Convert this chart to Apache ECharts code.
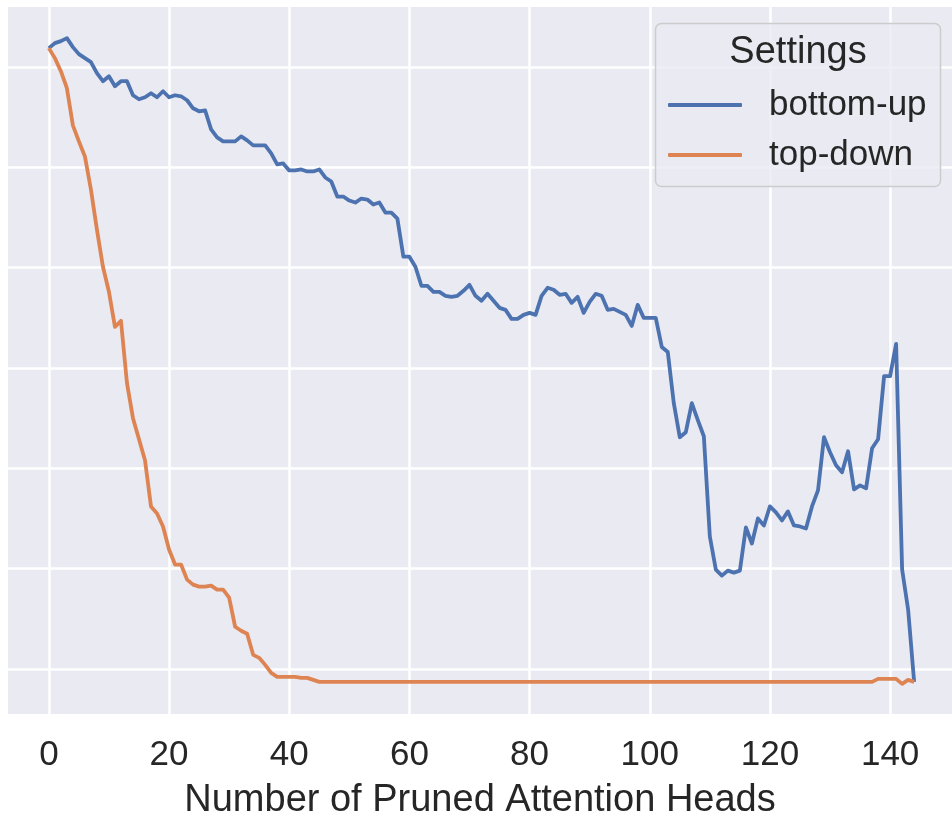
<!DOCTYPE html>
<html><head><meta charset="utf-8">
<script src="https://cdn.jsdelivr.net/npm/echarts@6/dist/echarts.min.js"></script>
<style>html,body{margin:0;padding:0;background:#fff}#c{width:952px;height:817px}</style>
</head><body><div id="c"></div>
<script>
const seriesNames = ['bottom-up', 'top-down'];
const xTickLabels = ['0', '20', '40', '60', '80', '100', '120', '140'];
const xAxisTitle = 'Number of Pruned Attention Heads';
const legendTitle = 'Settings';

const bottomUp = [
  61.9,62.4,62.6,62.9,62.0,61.3,60.9,60.5,59.4,58.6,
  59.1,58.1,58.6,58.6,57.2,56.8,57.0,57.4,57.0,57.6,
  57.0,57.2,57.1,56.7,55.9,55.6,55.7,53.8,53.0,52.6,
  52.6,52.6,53.1,52.7,52.2,52.2,52.2,51.4,50.3,50.4,
  49.7,49.7,49.8,49.6,49.6,49.8,49.0,48.6,47.1,47.1,
  46.7,46.5,46.9,46.8,46.3,46.5,45.5,45.5,44.9,41.1,
  41.1,40.1,38.2,38.2,37.6,37.6,37.2,37.1,37.2,37.7,
  38.3,37.2,36.7,37.4,36.7,36.0,35.8,34.9,34.9,35.3,
  35.5,35.3,37.2,38.0,37.8,37.3,37.4,36.5,37.1,35.5,
  36.6,37.4,37.2,35.8,35.9,35.6,35.3,34.2,36.3,35.0,
  35.0,35.0,32.1,31.6,26.5,23.1,23.6,26.5,24.8,23.2,
  13.2,9.9,9.3,9.8,9.6,9.8,14.1,12.5,15.0,14.3,
  16.2,15.6,14.8,15.7,14.3,14.2,14.0,16.2,17.8,23.1,
  21.6,20.3,19.6,21.7,17.9,18.3,18.0,22.0,22.9,29.2,
  29.2,32.4,9.9,5.9,-1.3
];

const topDown = [
  61.9,60.9,59.6,57.9,54.2,52.6,51.1,47.8,43.8,40.1,
  37.6,34.1,34.7,28.5,25.0,22.9,20.8,16.2,15.5,14.2,
  11.9,10.4,10.4,8.9,8.4,8.2,8.2,8.3,7.9,7.9,
  7.1,4.2,3.8,3.5,1.4,1.1,0.4,-0.4,-0.8,-0.8,
  -0.8,-0.8,-0.9,-0.9,-1.1,-1.3,-1.3,-1.3,-1.3,-1.3,
  -1.3,-1.3,-1.3,-1.3,-1.3,-1.3,-1.3,-1.3,-1.3,-1.3,
  -1.3,-1.3,-1.3,-1.3,-1.3,-1.3,-1.3,-1.3,-1.3,-1.3,
  -1.3,-1.3,-1.3,-1.3,-1.3,-1.3,-1.3,-1.3,-1.3,-1.3,
  -1.3,-1.3,-1.3,-1.3,-1.3,-1.3,-1.3,-1.3,-1.3,-1.3,
  -1.3,-1.3,-1.3,-1.3,-1.3,-1.3,-1.3,-1.3,-1.3,-1.3,
  -1.3,-1.3,-1.3,-1.3,-1.3,-1.3,-1.3,-1.3,-1.3,-1.3,
  -1.3,-1.3,-1.3,-1.3,-1.3,-1.3,-1.3,-1.3,-1.3,-1.3,
  -1.3,-1.3,-1.3,-1.3,-1.3,-1.3,-1.3,-1.3,-1.3,-1.3,
  -1.3,-1.3,-1.3,-1.3,-1.3,-1.3,-1.3,-1.3,-1.0,-1.0,
  -1.0,-1.0,-1.5,-1.1,-1.3
];

const FONT = '"Liberation Sans", Arial, "DejaVu Sans", sans-serif';
const TXT = '#262626';
const COLORS = ['#4c72b0', '#dd8452'];
const toPairs = arr => arr.map((v, i) => [i, v]);

const chart = echarts.init(document.getElementById('c'), null, {renderer: 'canvas'});
chart.setOption({
  animation: false,
  backgroundColor: '#ffffff',
  grid: {left: 8, right: 0, top: 7, bottom: 103, show: true, backgroundColor: '#eaeaf2', borderWidth: 0,
         containLabel: false, outerBoundsMode: 'none'},
  xAxis: {
    type: 'value', min: -6.8, max: 150.3, minInterval: 20, maxInterval: 20,
    axisLine: {show: false}, axisTick: {show: false},
    axisLabel: {
      showMinLabel: false, showMaxLabel: false, margin: 24,
      fontSize: 35, lineHeight: 35, color: TXT, fontFamily: FONT,
      formatter: v => { const s = String(Math.round(v)); return xTickLabels.indexOf(s) >= 0 ? s : ''; }
    },
    splitLine: {show: true, showMinLine: false, showMaxLine: false, lineStyle: {color: '#ffffff', width: 2.5}},
    name: xAxisTitle, nameLocation: 'middle', nameGap: 68,
    nameTextStyle: {fontSize: 38, lineHeight: 38, color: TXT, fontFamily: FONT}
  },
  yAxis: {
    type: 'value', min: -4.5, max: 66, minInterval: 10, maxInterval: 10,
    axisLine: {show: false}, axisTick: {show: false}, axisLabel: {show: false},
    splitLine: {show: true, showMinLine: false, showMaxLine: false, lineStyle: {color: '#ffffff', width: 2.5}}
  },
  legend: {
    data: seriesNames.map((n, i) => ({name: n, icon: 'roundRect', itemStyle: {color: COLORS[i]}})),
    orient: 'vertical', left: 668, top: 87.5, padding: 0,
    itemWidth: 74, itemHeight: 4, itemGap: 15,
    textStyle: {fontSize: 35, color: TXT, fontFamily: FONT, lineHeight: 35, padding: [0, 0, 0, 22]},
    z: 10
  },
  graphic: [
    {type: 'rect', z: 5, shape: {x: 655.5, y: 23.5, width: 285, height: 163, r: 6},
     style: {fill: 'rgba(234,234,242,0.8)', stroke: '#cccccc', lineWidth: 1.5}},
    {type: 'text', z: 11, x: 798, y: 52.5,
     style: {text: legendTitle, fontSize: 38, fill: TXT, fontFamily: FONT, textAlign: 'center', textVerticalAlign: 'middle'}}
  ],
  series: [
    {name: seriesNames[0], type: 'line', data: toPairs(bottomUp), symbol: 'none', showSymbol: false,
     lineStyle: {color: COLORS[0], width: 3.8, join: 'round'}, itemStyle: {color: COLORS[0]}, z: 3},
    {name: seriesNames[1], type: 'line', data: toPairs(topDown), symbol: 'none', showSymbol: false,
     lineStyle: {color: COLORS[1], width: 3.8, join: 'round'}, itemStyle: {color: COLORS[1]}, z: 3}
  ]
});
</script></body></html>
